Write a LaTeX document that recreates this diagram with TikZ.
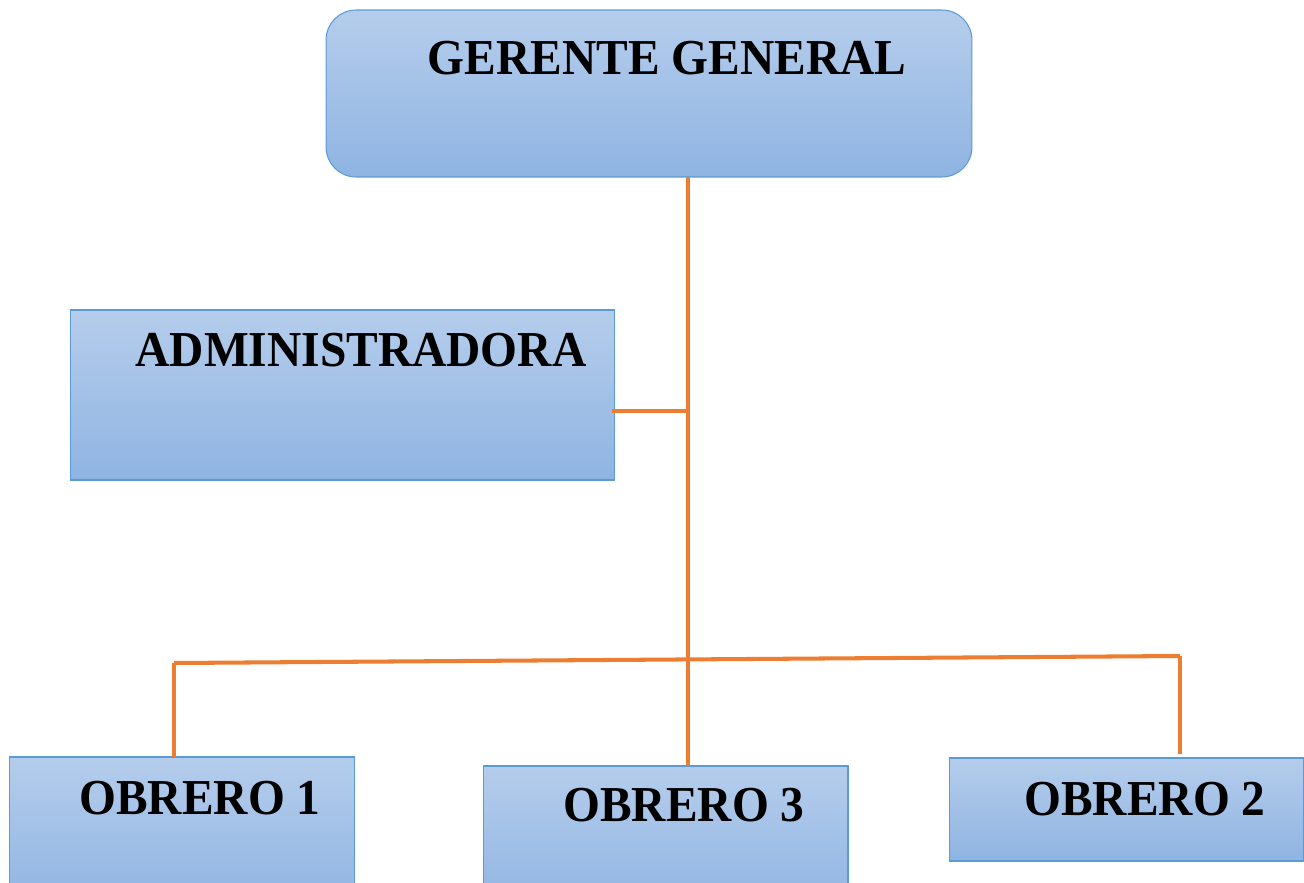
\documentclass[tikz,border=0pt]{standalone}
\usepackage{fontspec}
\setmainfont{Liberation Serif}
\usepackage{tikz}

\definecolor{boxtop}{RGB}{181,205,236}
\definecolor{boxbot}{RGB}{143,180,226}
\definecolor{boxline}{RGB}{91,155,213}
\definecolor{wireorange}{RGB}{237,125,49}

\begin{document}
\begin{tikzpicture}[
  x=0.02cm,
  y=-0.02cm, % <-- pixel grid, y grows downwards
  box/.style={draw=boxline, line width=0.6pt, top color=boxtop, bottom color=boxbot,
    inner sep=0pt, outer sep=0pt},
  boxtext/.style={anchor=base, yscale=1.06, transform shape,
    font=\bfseries\fontsize{27}{32}\selectfont},
  wire/.style={draw=wireorange, line width=2.3pt}
]

\useasboundingbox (0,0) rectangle (1304,882);
\clip (0,0) rectangle (1304,882);

% --- Top: manager ---
\node[box, rounded corners=0.6cm, minimum width=12.92cm, minimum height=3.34cm]
  (gg) at (649,93.5) {};
\node[boxtext] (ggtext) at (667,74.5) {GERENTE GENERAL};

% --- Middle: administration ---
\node[box, minimum width=10.9cm, minimum height=3.4cm] (adm) at (342.5,395) {};
\node[boxtext] (admtext) at (361,366) {ADMINISTRADORA};

% --- Bottom row: workers ---
\node[box, minimum width=6.92cm, minimum height=3.0cm] (ob1) at (182,832) {};
\node[boxtext] (ob1text) at (200,814) {OBRERO 1};

\node[box, minimum width=7.3cm, minimum height=2.9cm] (ob3) at (665.5,838.5) {};
\node[boxtext] (ob3text) at (684,821.5) {OBRERO 3};

\node[box, minimum width=7.1cm, minimum height=2.06cm] (ob2) at (1126.5,809.5) {};
\node[boxtext] (ob2text) at (1145,815) {OBRERO 2};

% Connection points
\coordinate (top) at (688,177);
\coordinate (aj) at (688,411);
\coordinate (bl) at (174,663);
\coordinate (br) at (1180,656);

% Connectors
\draw[wire] (top) -- (top |- ob3.north);
\draw[wire] ([xshift=-1.7pt]adm.east |- aj) -- (aj);
\draw[wire] (bl) -- (br);
\draw[wire] (bl) -- (bl |- ob1.north);
\draw[wire] (br) -- ([yshift=2.3pt]br |- ob2.north);

\end{tikzpicture}
\end{document}
